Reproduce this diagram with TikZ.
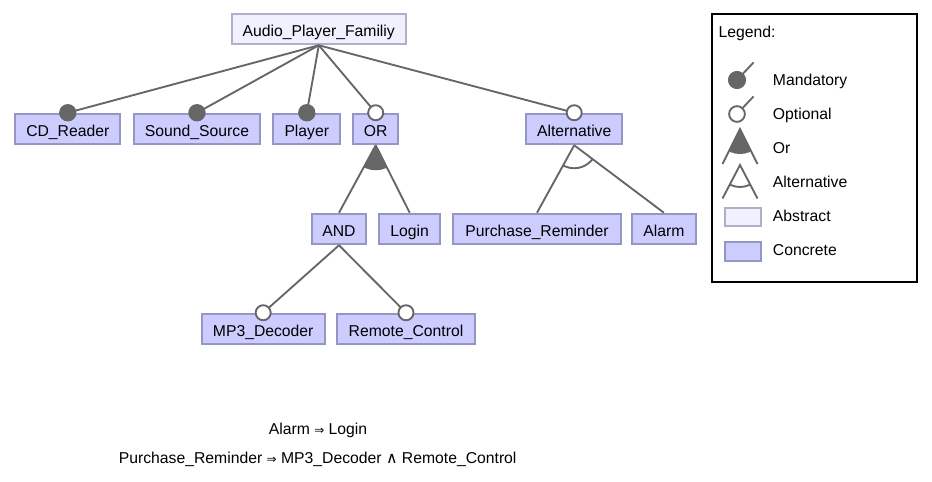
\documentclass[tikz,border=0pt]{standalone}
\usepackage{fontspec}
\setmainfont{Liberation Sans}
\newfontfamily\symfont{DejaVu Sans}
\usetikzlibrary{calc}
\definecolor{concfill}{RGB}{204,204,255}
\definecolor{concdraw}{RGB}{150,150,195}
\definecolor{absfill}{RGB}{240,240,255}
\definecolor{absdraw}{RGB}{175,175,200}
\definecolor{edgecol}{RGB}{102,102,102}
\tikzset{
  bw/.style={minimum width=#1*0.75pt},
  feat/.style={draw=concdraw, fill=concfill, line width=1.5pt, minimum height=22.9pt, inner xsep=0pt, inner ysep=0pt,
    text height=10.5pt, text depth=0pt,
    font=\fontsize{11.8pt}{13pt}\selectfont},
  abst/.style={feat, draw=absdraw, fill=absfill},
  edgeline/.style={draw=edgecol, line width=1.4pt},
  mand/.style={circle, fill=edgecol, draw=edgecol, line width=0.8pt, minimum size=12.2pt, inner sep=0pt},
  opt/.style={circle, fill=white, draw=edgecol, line width=1.4pt, minimum size=11.3pt, inner sep=0pt},
  lgtext/.style={anchor=west, inner sep=0pt, text height=8.4pt, text depth=0pt, font=\fontsize{11.8pt}{13pt}\selectfont},
  constr/.style={inner sep=0pt, text height=8.4pt, text depth=0pt, font=\fontsize{11.8pt}{13pt}\selectfont}
}
\begin{document}
\begin{tikzpicture}[x=0.75pt, y=-0.75pt]
\useasboundingbox (0,0) rectangle (932,482);

% feature nodes
\node[abst, bw=174.5] (root) at (318.8,29) {Audio\_Player\_Familiy};
\node[feat, bw=105] (cd) at (67.8,129) {CD\_Reader};
\node[feat, bw=126.6] (ss) at (197,129) {Sound\_Source};
\node[feat, bw=67] (pl) at (306.8,129) {Player};
\node[feat, bw=44.7] (or) at (375.7,129) {OR};
\node[feat, bw=96.3] (alt) at (574.2,129) {Alternative};
\node[feat, bw=54.6] (and) at (339,229) {AND};
\node[feat, bw=60.7] (login) at (409.7,229) {Login};
\node[feat, bw=167.4] (pr) at (537,229) {Purchase\_Reminder};
\node[feat, bw=63.7] (alarm) at (663.9,229) {Alarm};
\node[feat, bw=123] (mp3) at (263.2,329) {MP3\_Decoder};
\node[feat, bw=137.4] (rc) at (406,329) {Remote\_Control};

% group sectors
\begin{scope}
  \clip (or.south) -- ($(or.south)!3!(and.north)$) -- ($(or.south)!3!(login.north)$) -- cycle;
  \fill[edgecol] (or.south) circle (18.75pt);
\end{scope}
\begin{scope}
  \clip (alt.south) -- ($(alt.south)!3!(pr.north)$) -- ($(alt.south)!3!(alarm.north)$) -- cycle;
  \draw[edgeline] (alt.south) circle (17.25pt);
\end{scope}

% edges
\draw[edgeline] (root.south) -- (cd.north);
\draw[edgeline] (root.south) -- (ss.north);
\draw[edgeline] (root.south) -- (pl.north);
\draw[edgeline] (root.south) -- (or.north);
\draw[edgeline] (root.south) -- (alt.north);
\draw[edgeline] (or.south) -- (and.north);
\draw[edgeline] (or.south) -- (login.north);
\draw[edgeline] (alt.south) -- (pr.north);
\draw[edgeline] (alt.south) -- (alarm.north);
\draw[edgeline] (and.south) -- (mp3.north);
\draw[edgeline] (and.south) -- (rc.north);

% end markers
\node[mand] (mcd) at (cd.north) {};
\node[mand] (mss) at (ss.north) {};
\node[mand] (mpl) at (pl.north) {};
\node[opt] (oor) at (or.north) {};
\node[opt] (oalt) at (alt.north) {};
\node[opt] (omp3) at (mp3.north) {};
\node[opt] (orc) at (rc.north) {};

% legend
\node[draw=black, line width=1.5pt, minimum width=153.75pt, minimum height=201pt, inner sep=0pt] (legend) at (814.7,147.5) {};
\node[lgtext] (lgtitle) at (718.3,31.7) {Legend:};

\coordinate (lm) at (753.5,62.5);
\draw[edgeline] (737,80) -- (lm);
\node[mand, minimum size=12.8pt] (lmc) at (737,80) {};
\node[lgtext] (lmt) at (772.7,80) {Mandatory};

\coordinate (lo) at (753.5,96.5);
\draw[edgeline] (737,114) -- (lo);
\node[opt, minimum size=11.8pt] (loc) at (737,114) {};
\node[lgtext] (lot) at (772.7,114) {Optional};

\coordinate (lorA) at (740,129);
\coordinate (lorL) at (722.5,164);
\coordinate (lorR) at (757.5,164);
\begin{scope}
  \clip (lorA) -- ($(lorA)!3!(lorL)$) -- ($(lorA)!3!(lorR)$) -- cycle;
  \fill[edgecol] (lorA) circle (18.75pt);
\end{scope}
\draw[edgeline] (lorL) -- (lorA) -- (lorR);
\node[lgtext] (lort) at (772.7,148) {Or};

\coordinate (laA) at (740,165);
\coordinate (laL) at (722.5,198.5);
\coordinate (laR) at (757.5,198.5);
\begin{scope}
  \clip (laA) -- ($(laA)!3!(laL)$) -- ($(laA)!3!(laR)$) -- cycle;
  \draw[edgeline] (laA) circle (16.5pt);
\end{scope}
\draw[edgeline] (laL) -- (laA) -- (laR);
\node[lgtext] (lat) at (772.7,182) {Alternative};

\node[abst, minimum width=26.8pt, minimum height=14pt, text height=0pt] (lab) at (742.8,217) {};
\node[lgtext] (labt) at (772.7,216) {Abstract};
\node[feat, minimum width=26.8pt, minimum height=14.3pt, text height=0pt] (lcc) at (742.8,251.2) {};
\node[lgtext] (lcct) at (772.7,250) {Concrete};

% constraints
\node[constr] (c1) at (318,429) {Alarm {\symfont\fontsize{9pt}{9pt}\selectfont ⇒} Login};
\node[constr] (c2) at (317.7,458) {Purchase\_Reminder {\symfont\fontsize{9pt}{9pt}\selectfont ⇒} MP3\_Decoder {\symfont ∧} Remote\_Control};
\end{tikzpicture}
\end{document}
